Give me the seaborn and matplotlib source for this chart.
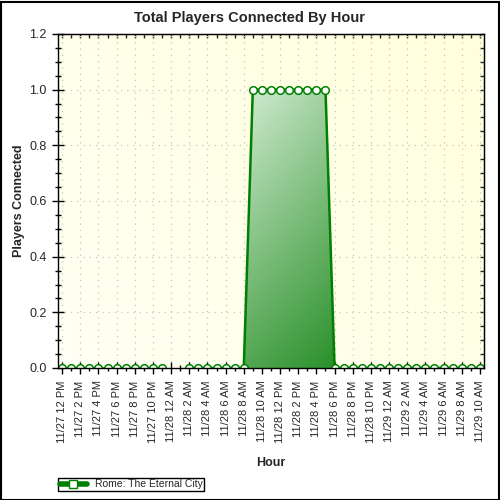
import numpy as np
import pandas as pd
import matplotlib
matplotlib.use("Agg")
import matplotlib.pyplot as plt
import seaborn as sns
from matplotlib.colors import LinearSegmentedColormap
from matplotlib.lines import Line2D
from matplotlib.patches import Rectangle
from matplotlib.ticker import MultipleLocator, FormatStrFormatter

# hourly samples, 11/27 12 PM .. 11/29 10 AM (None = no data)
players = [0, 0, 0, 0, 0, 0, 0, 0, 0, 0, 0, 0,
           None, None,
           0, 0, 0, 0, 0, 0, 0,
           1, 1, 1, 1, 1, 1, 1, 1, 1,
           0, 0, 0, 0, 0, 0, 0, 0, 0, 0, 0, 0, 0, 0, 0, 0, 0]
tick_labels = ['11/27 12 PM', '11/27 2 PM', '11/27 4 PM', '11/27 6 PM', '11/27 8 PM',
               '11/27 10 PM', '11/28 12 AM', '11/28 2 AM', '11/28 4 AM', '11/28 6 AM',
               '11/28 8 AM', '11/28 10 AM', '11/28 12 PM', '11/28 2 PM', '11/28 4 PM',
               '11/28 6 PM', '11/28 8 PM', '11/28 10 PM', '11/29 12 AM', '11/29 2 AM',
               '11/29 4 AM', '11/29 6 AM', '11/29 8 AM', '11/29 10 AM']
series_name = 'Rome: The Eternal City'

df = pd.DataFrame({'hour': np.arange(len(players)), 'players': players})
df['players'] = df['players'].astype(float)
df['seg'] = df['players'].isna().cumsum()
df = df.dropna()

sns.set_style("white")
plt.rcParams['font.family'] = ['Liberation Sans', 'DejaVu Sans']

fig = plt.figure(figsize=(5, 5), dpi=100)
ax = fig.add_axes([0.116, 0.264, 0.852, 0.668])

xmin, xmax = -0.45, len(players) - 1 + 0.45
ymin, ymax = 0, 1.2

# plot area background gradient
bg = LinearSegmentedColormap.from_list('bg', ['#fffff4', '#ffffdc'])
gx, gy = np.meshgrid(np.linspace(0, 1, 200), np.linspace(0, 1, 200))
ax.imshow(0.6 * gx + 0.4 * gy, cmap=bg, extent=[xmin, xmax, ymin, ymax],
          origin='lower', aspect='auto', zorder=0)

# gradient fill under the non-zero run (light top-left -> dark bottom-right)
green = '#008000'
p = df['players']
run = df[(p > 0) | (p.shift(1) > 0) | (p.shift(-1) > 0)]
peak = run[run['players'] > 0]
b0, b1 = run['hour'].min(), run['hour'].max()
t0, t1 = peak['hour'].min(), peak['hour'].max()
level = peak['players'].max()
s = np.linspace(0, 1, 120)[:, None]     # bottom -> top
u = np.linspace(0, 1, 120)[None, :]     # left -> right
mx = (b0 + (b1 - b0) * u) * (1 - s) + (t0 + (t1 - t0) * u) * s
my = level * s * np.ones_like(u)
shade = 0.25 * u + 0.75 * (1 - s)
fc = LinearSegmentedColormap.from_list('fg', ['#cde9cd', '#2a902a'])
ax.pcolormesh(mx, my, shade[:-1, :-1], cmap=fc, vmin=0, vmax=1, shading='flat',
              edgecolors='none', antialiased=False, zorder=2)

sns.lineplot(data=df, x='hour', y='players', units='seg', estimator=None,
             color=green, linewidth=1.8, marker='o', markersize=5.5,
             markerfacecolor='white', markeredgecolor=green, markeredgewidth=1.1,
             legend=False, ax=ax, zorder=3)

ax.set_xlim(xmin, xmax)
ax.set_ylim(ymin, ymax)
ax.set_xticks(np.arange(0, len(players), 2))
ax.set_xticklabels(tick_labels, rotation=90, fontsize=8)
ax.xaxis.set_minor_locator(MultipleLocator(1))
ax.yaxis.set_major_locator(MultipleLocator(0.2))
ax.yaxis.set_minor_locator(MultipleLocator(0.05))
ax.yaxis.set_major_formatter(FormatStrFormatter('%.1f'))
ax.tick_params(axis='y', labelsize=9, pad=4)
ax.tick_params(axis='x', pad=5)
ax.tick_params(which='major', direction='inout', length=8, width=1, color='black',
               bottom=True, left=True)
ax.tick_params(which='minor', direction='inout', length=4, width=1, color='black',
               bottom=True, left=True)

# inward ticks on top and right edges
top = ax.secondary_xaxis('top')
top.set_xticks(np.arange(0, len(players), 1))
top.tick_params(direction='in', length=3, width=1, top=True, labeltop=False)
right = ax.secondary_yaxis('right')
right.set_yticks(np.arange(0, 1.21, 0.05))
right.tick_params(direction='in', length=3, width=1, right=True, labelright=False)

ax.grid(True, which='major', color='#c4c4c4', linestyle=(0, (1, 4)), linewidth=0.9)
ax.set_axisbelow(True)
for sp in ax.spines.values():
    sp.set_visible(True)
    sp.set_color('black')
    sp.set_linewidth(1)
    sp.set_zorder(4)

fig.suptitle('Total Players Connected By Hour', x=0.5, y=0.978, fontsize=10.5,
             fontweight='bold')
ax.set_xlabel('Hour', fontsize=9, fontweight='bold', labelpad=10)
ax.set_ylabel('Players Connected', fontsize=9, fontweight='bold', labelpad=3)

handle = Line2D([0], [0], color=green, linewidth=4, marker='s', markersize=5.5,
                markerfacecolor='white', markeredgecolor=green)
fig.legend(handles=[handle], labels=[series_name], loc='lower left',
           bbox_to_anchor=(0.116, 0.018), fontsize=7.5, frameon=True, fancybox=False,
           edgecolor='black', framealpha=1, borderpad=0.15, handlelength=2.6,
           handletextpad=0.8, borderaxespad=0)

fig.patches.append(Rectangle((0.001, 0.001), 0.996, 0.996, transform=fig.transFigure,
                             fill=False, edgecolor='black', linewidth=1.5))

fig.savefig('out.png', dpi=100)
